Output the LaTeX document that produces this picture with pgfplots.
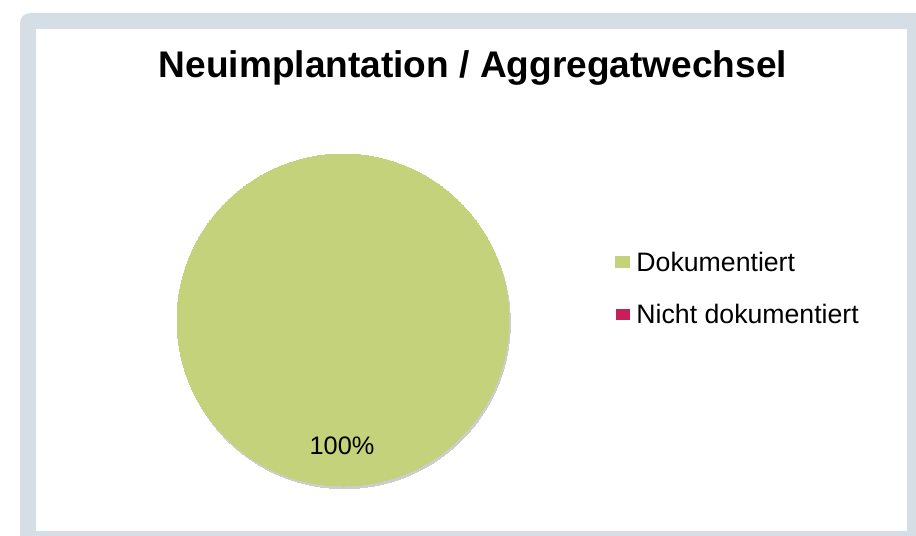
\documentclass[border=0pt]{standalone}
\usepackage{pgfplots}
\pgfplotsset{compat=1.18}
\usepackage{fontspec}
\setmainfont{Liberation Sans}
\definecolor{framec}{RGB}{213,222,228}
\definecolor{greenc}{RGB}{196,211,123}
\definecolor{magc}{RGB}{200,30,90}
\definecolor{shadowc}{RGB}{205,205,205}
\begin{document}
\begin{tikzpicture}[x=0.75pt,y=-0.75pt]
\useasboundingbox (0,0) rectangle (916,535);
\begin{scope}
\clip (0,0) rectangle (916,535);
\fill[framec,rounded corners=7.5pt] (20,13) rectangle (940,560);
\fill[white] (36,29) rectangle (907,531);
\end{scope}
\node[anchor=base,font=\bfseries\fontsize{27.8}{32}\selectfont] at (473,77) {Neuimplantation / Aggregatwechsel};
\begin{axis}[at={(0,0)},anchor=north west,
  width=687pt,height=401.25pt,scale only axis,
  xmin=0,xmax=916,ymin=0,ymax=535,y dir=reverse,
  hide axis,clip=false,
  legend style={draw=none,fill=none,at={(axis cs:615,288)},anchor=west,
    font=\fontsize{20}{23}\selectfont,row sep=25pt,inner sep=0pt,
    nodes={inner sep=0pt,text depth=0pt}},
  legend cell align=left]
% shadow
\addplot[only marks,mark=*,mark size=124.5pt,forget plot,
  mark options={draw=shadowc,fill=shadowc,line width=0pt,xshift=1pt,yshift=-2pt}]
  coordinates {(343,320)};
% Dokumentiert 100%
\addplot[only marks,mark=*,mark size=124.5pt,
  mark options={draw=greenc,fill=greenc,line width=0pt},
  legend image code/.code={\fill[greenc] (0pt,-4.3pt) rectangle (10.5pt,4.3pt);\path (15.5pt,0pt);}]
  coordinates {(343,320)};
\addlegendentry{Dokumentiert}
% Nicht dokumentiert 0%
\addplot[draw=none,mark=none,
  legend image code/.code={\fill[magc] (0pt,-4.3pt) rectangle (10.5pt,4.3pt);\path (15.5pt,0pt);}]
  coordinates {(343,320)};
\addlegendentry{Nicht dokumentiert}
\end{axis}
\node[font=\fontsize{19}{22}\selectfont,anchor=base] at (342,454) {100\%};
\end{tikzpicture}
\end{document}
